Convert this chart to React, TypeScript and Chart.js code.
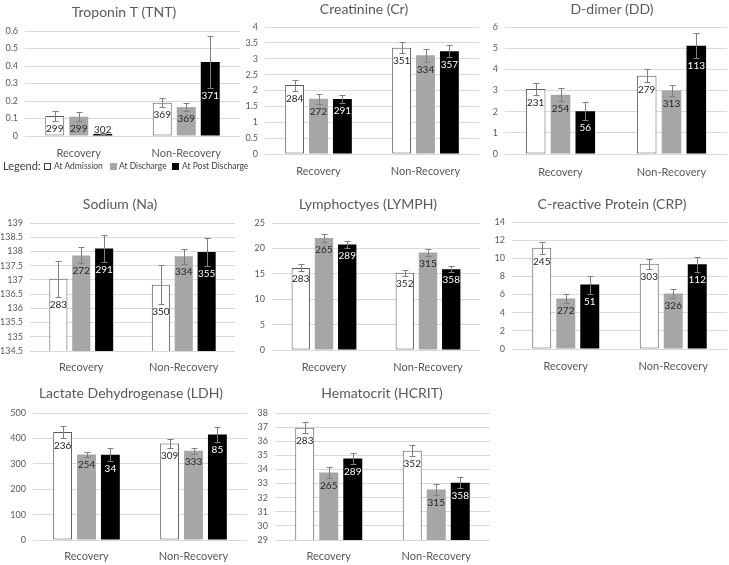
import React, { useEffect, useRef } from "react";
import { Chart, registerables } from "chart.js";

Chart.register(...registerables);

const FONT = "Lato";

const categories = ["Recovery", "Non-Recovery"];
const seriesNames = ["At Admission", "At Discharge", "At Post Discharge"];

// All value arrays are [series][category]
const tntMean = [[0.115, 0.19], [0.11, 0.165], [0.012, 0.423]];
const tntErr = [[0.029, 0.027], [0.026, 0.024], [0.003, 0.148]];
const tntN = [[299, 369], [299, 369], [302, 371]];

const crMean = [[2.17, 3.35], [1.74, 3.11], [1.73, 3.24]];
const crErr = [[0.17, 0.18], [0.15, 0.2], [0.12, 0.18]];
const crN = [[284, 351], [272, 334], [291, 357]];

const ddMean = [[3.07, 3.7], [2.8, 3.0], [2.02, 5.12]];
const ddErr = [[0.29, 0.3], [0.3, 0.26], [0.43, 0.59]];
const ddN = [[231, 279], [254, 313], [56, 113]];

const naMean = [[137.04, 136.83], [137.86, 137.83], [138.1, 137.98]];
const naErr = [[0.63, 0.69], [0.28, 0.26], [0.47, 0.5]];
const naN = [[283, 350], [272, 334], [291, 355]];

const lymphMean = [[16.16, 15.2], [22.05, 19.2], [20.75, 15.9]];
const lymphErr = [[0.7, 0.55], [0.7, 0.75], [0.7, 0.6]];
const lymphN = [[283, 352], [265, 315], [289, 358]];

const crpMean = [[11.17, 9.41], [5.57, 6.12], [7.1, 9.34]];
const crpErr = [[0.65, 0.55], [0.5, 0.5], [1.0, 0.82]];
const crpN = [[245, 303], [272, 326], [51, 112]];

const ldhMean = [[425, 380], [337, 351], [336, 415]];
const ldhErr = [[23, 16], [10, 13], [26, 30]];
const ldhN = [[236, 309], [254, 333], [34, 85]];

const hcritMean = [[36.96, 35.33], [33.78, 32.58], [34.77, 33.05]];
const hcritErr = [[0.41, 0.4], [0.42, 0.39], [0.4, 0.39]];
const hcritN = [[283, 352], [265, 315], [289, 358]];

// axis ranges: [min, max, step]
const tntAxis = [0, 0.6, 0.1];
const crAxis = [0, 4, 0.5];
const ddAxis = [0, 6, 1];
const naAxis = [134.5, 139, 0.5];
const lymphAxis = [0, 25, 5];
const crpAxis = [0, 14, 2];
const ldhAxis = [0, 500, 50];
const hcritAxis = [29, 38, 1];

const fills = ["#ffffff", "#a6a6a6", "#000000"];
const borders = ["#595959", "#a6a6a6", "#000000"];
const labelColors = ["#262626", "#262626", "#ffffff"];

type Box = { L: number; R: number; T: number; B: number; titleX: number; titleY: number; catY: number; yW: number };
type PanelDef = { title: string; mean: number[][]; err: number[][]; n: number[][]; axis: number[]; box: Box };

const panels: PanelDef[] = [
  { title: "Troponin T (TNT)", mean: tntMean, err: tntErr, n: tntN, axis: tntAxis,
    box: { L: 25, R: 240, T: 31, B: 136, titleX: 124, titleY: 12, catY: 153, yW: 25 } },
  { title: "Creatinine (Cr)", mean: crMean, err: crErr, n: crN, axis: crAxis,
    box: { L: 265, R: 479, T: 27, B: 154, titleX: 364, titleY: 9, catY: 171, yW: 25 } },
  { title: "D-dimer (DD)", mean: ddMean, err: ddErr, n: ddN, axis: ddAxis,
    box: { L: 505, R: 727, T: 27, B: 154, titleX: 612, titleY: 9, catY: 172, yW: 22 } },
  { title: "Sodium (Na)", mean: naMean, err: naErr, n: naN, axis: naAxis,
    box: { L: 30, R: 235, T: 223, B: 351, titleX: 120, titleY: 204, catY: 367, yW: 30 } },
  { title: "Lymphoctyes (LYMPH)", mean: lymphMean, err: lymphErr, n: lymphN, axis: lymphAxis,
    box: { L: 272, R: 480, T: 223, B: 350, titleX: 368, titleY: 204, catY: 367, yW: 30 } },
  { title: "C-reactive Protein (CRP)", mean: crpMean, err: crpErr, n: crpN, axis: crpAxis,
    box: { L: 512, R: 727, T: 222, B: 349, titleX: 612, titleY: 204, catY: 366, yW: 30 } },
  { title: "Lactate Dehydrogenase (LDH)", mean: ldhMean, err: ldhErr, n: ldhN, axis: ldhAxis,
    box: { L: 33, R: 247, T: 413, B: 540, titleX: 131, titleY: 393, catY: 556, yW: 32 } },
  { title: "Hematocrit (HCRIT)", mean: hcritMean, err: hcritErr, n: hcritN, axis: hcritAxis,
    box: { L: 275, R: 490, T: 413, B: 540, titleX: 382, titleY: 393, catY: 556, yW: 33 } },
];

function Panel({ def }: { def: PanelDef }) {
  const ref = useRef<HTMLCanvasElement | null>(null);
  const b = def.box;
  const left = b.L - b.yW;
  const right = 2 * b.titleX - left;
  const extraRight = right - b.R;
  const top = b.titleY - 12;
  const bottom = b.catY + 10;
  const width = right - left;
  const height = bottom - top;

  useEffect(() => {
    if (!ref.current) return;
    const { mean, err, n } = def;
    const overlay = {
      id: "errAndLabels",
      afterDatasetsDraw(chart: any) {
        const ctx = chart.ctx;
        const ys = chart.scales.y;
        const base = ys.getPixelForValue(ys.min);
        chart.data.datasets.forEach((_ds: any, i: number) => {
          const meta = chart.getDatasetMeta(i);
          meta.data.forEach((bar: any, j: number) => {
            const v = mean[i][j];
            const e = err[i][j];
            const xc = Math.round(bar.x) + 0.5;
            const yTop = Math.round(ys.getPixelForValue(v + e)) + 0.5;
            const yBot = Math.round(ys.getPixelForValue(v - e)) + 0.5;
            ctx.save();
            ctx.strokeStyle = "#7f7f7f";
            ctx.lineWidth = 1;
            ctx.beginPath();
            ctx.moveTo(xc, yTop);
            ctx.lineTo(xc, yBot);
            ctx.moveTo(xc - 3, yTop);
            ctx.lineTo(xc + 3, yTop);
            ctx.moveTo(xc - 3, yBot);
            ctx.lineTo(xc + 3, yBot);
            ctx.stroke();
            let ly = yBot + 7;
            let color = labelColors[i];
            if (ly > base - 6) {
              ly = base - 6;
              color = "#262626";
            }
            ctx.fillStyle = color;
            ctx.font = `10px ${FONT}`;
            ctx.textAlign = "center";
            ctx.textBaseline = "middle";
            ctx.fillText(String(n[i][j]), bar.x, ly);
            ctx.restore();
          });
        });
      },
    };
    const [min, max, step] = def.axis;
    const chart = new Chart(ref.current, {
      type: "bar",
      data: {
        labels: categories,
        datasets: seriesNames.map((name, i) => ({
          label: name,
          data: mean[i],
          backgroundColor: fills[i],
          borderColor: borders[i],
          borderWidth: i === 0 ? 1 : 0,
          borderSkipped: false,
          categoryPercentage: 0.67,
          barPercentage: 0.79,
          yAxisID: "y",
        })),
      },
      options: {
        responsive: false,
        animation: false,
        layout: { padding: 0 },
        plugins: {
          legend: { display: false },
          tooltip: { enabled: false },
          title: {
            display: true,
            text: def.title,
            color: "#595959",
            font: { family: FONT, size: 14, weight: "normal", lineHeight: 1.2 },
            padding: { top: 3.6, bottom: b.T - b.titleY - 8.4 },
          },
        },
        scales: {
          x: {
            grid: { display: false, drawTicks: false },
            border: { display: false },
            ticks: {
              color: "#595959",
              font: { family: FONT, size: 11 },
              padding: b.catY - b.B - 6.6,
              maxRotation: 0,
              autoSkip: false,
            },
            afterFit: (s: any) => { s.height = bottom - b.B; },
          },
          y: {
            type: "linear",
            position: "left",
            min,
            max,
            ticks: {
              stepSize: step,
              color: "#595959",
              font: { family: FONT, size: 9 },
              padding: 7,
              callback: (val: any) => String(Number(Number(val).toFixed(3))),
            },
            grid: { color: "#d9d9d9", drawTicks: false },
            border: { display: false },
            afterFit: (s: any) => { s.width = b.yW; },
          },
          y2: {
            type: "linear",
            position: "right",
            display: true,
            grid: { display: false, drawTicks: false },
            border: { display: false },
            ticks: { display: false },
            afterFit: (s: any) => { s.width = extraRight; },
          },
        },
      } as any,
      plugins: [overlay],
    });
    return () => chart.destroy();
  }, []);

  return (
    <canvas
      ref={ref}
      width={width}
      height={height}
      style={{ position: "absolute", left, top, width, height }}
    />
  );
}

function LegendBox({ x, color, border }: { x: number; color: string; border: string }) {
  return (
    <div
      style={{
        position: "absolute",
        left: x,
        top: 163,
        width: 7,
        height: 7,
        boxSizing: "border-box",
        background: color,
        border: `1px solid ${border}`,
      }}
    />
  );
}

export default function App() {
  const legendText = { position: "absolute" as const, top: 160, fontFamily: FONT, color: "#404040", whiteSpace: "nowrap" as const, lineHeight: "12px" };
  return (
    <div style={{ position: "absolute", left: 0, top: 0, width: 729, height: 565, overflow: "hidden", background: "#ffffff" }}>
      {panels.map((p) => (
        <Panel key={p.title} def={p} />
      ))}
      <div style={{ ...legendText, left: 3, top: 159, fontSize: 11, lineHeight: "14px" }}>Legend:</div>
      <LegendBox x={44} color={fills[0]} border="#404040" />
      <div style={{ ...legendText, left: 54, fontSize: 8.5 }}>{seriesNames[0]}</div>
      <LegendBox x={110} color={fills[1]} border={fills[1]} />
      <div style={{ ...legendText, left: 119, fontSize: 8.5 }}>{seriesNames[1]}</div>
      <LegendBox x={172} color={fills[2]} border={fills[2]} />
      <div style={{ ...legendText, left: 182, fontSize: 8.5 }}>{seriesNames[2]}</div>
    </div>
  );
}
